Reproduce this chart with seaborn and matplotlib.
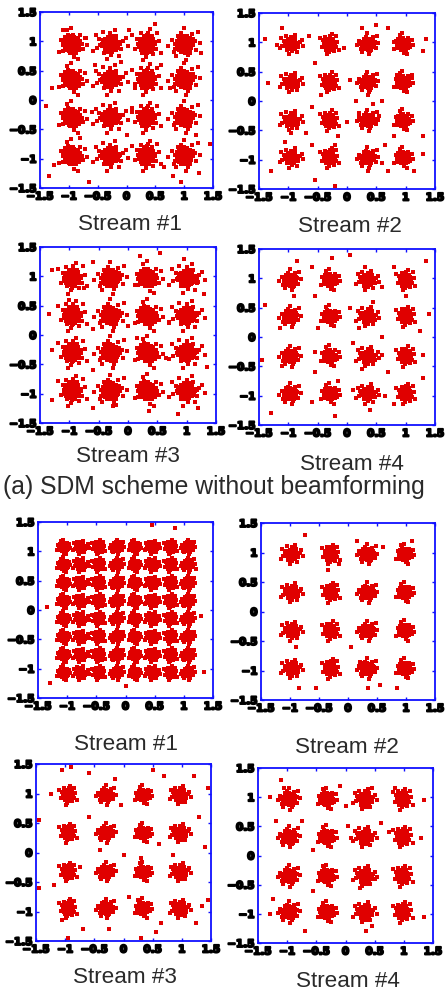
import numpy as np
import pandas as pd
import matplotlib
matplotlib.use("Agg")
import matplotlib.pyplot as plt
import matplotlib.patheffects as pe
import seaborn as sns

sns.set_theme(style="white")
plt.rcParams['font.family'] = ['Liberation Sans', 'DejaVu Sans']

# ---------------- data ----------------
LEVELS_64 = [-1.07, -0.77, -0.46, -0.15, 0.15, 0.46, 0.77, 1.07]

# observed cluster grid per panel (x levels, y levels)
P1_X = [-0.95, -0.28, 0.35, 1.00]; P1_Y = [0.95, 0.35, -0.30, -0.95]
P2_X = [-0.95, -0.30, 0.35, 0.95]; P2_Y = [0.97, 0.32, -0.33, -0.97]
P3_X = [-0.95, -0.30, 0.33, 1.00]; P3_Y = [0.97, 0.33, -0.30, -0.95]
P4_X = [-0.97, -0.30, 0.35, 1.00]; P4_Y = [0.97, 0.35, -0.33, -0.97]
P5_X = LEVELS_64; P5_Y = LEVELS_64
P6_X = [-0.97, -0.30, 0.33, 0.97]; P6_Y = [0.97, 0.32, -0.33, -0.97]
P7_X = [-0.95, -0.30, 0.33, 0.97]; P7_Y = [0.97, 0.33, -0.33, -0.95]
P8_X = [-0.97, -0.33, 0.33, 0.98]; P8_Y = [0.97, 0.32, -0.35, -0.97]

# cluster spread (data units) per panel, and whether the cluster core is solid
SPREAD = [0.19, 0.125, 0.19, 0.125, 0.085, 0.12, 0.115, 0.13]
SOLID = [True, True, True, True, False, True, True, True]

# solid cluster core (offsets in units of spread)
CORE = [(-0.4,-0.2),(-0.4,0.0),(-0.4,0.2),(-0.2,-0.4),(-0.2,-0.2),(-0.2,0.0),(-0.2,0.2),(-0.2,0.4),
        (0.0,-0.4),(0.0,-0.2),(0.0,0.2),(0.0,0.4),(0.2,-0.4),(0.2,-0.2),(0.2,0.0),(0.2,0.2),(0.2,0.4),
        (0.4,-0.2),(0.4,0.0),(0.4,0.2),(-0.55,0.05),(0.55,-0.05),(0.05,0.55),(-0.05,-0.55),
        (-0.35,-0.4),(0.35,0.4),(-0.35,0.4),(0.35,-0.4),
        (-0.65,-0.15),(-0.62,0.30),(0.66,0.20),(0.60,-0.35),(-0.20,0.65),(0.25,0.62),(-0.25,-0.63),(0.18,-0.66),
        (-0.50,0.50),(0.50,0.52),(-0.48,-0.52),(0.52,-0.48),(0.75,0.00),(-0.75,0.05),(0.00,0.75),(0.05,-0.75)]

# hand-read cloud shapes (offsets in units of spread)
PAT_A = [(0.00,0.00),(0.20,0.10),(-0.20,0.05),(0.05,0.25),(-0.05,-0.20),(0.30,-0.15),(-0.35,-0.10),(0.15,-0.40),(-0.30,0.35),(0.40,0.30),
         (0.55,0.05),(-0.55,0.20),(0.05,0.55),(-0.05,-0.55),(0.45,-0.40),(-0.45,-0.40),(0.30,0.55),(-0.25,-0.45),(0.65,-0.20),(-0.65,-0.25),
         (0.15,0.15),(-0.15,0.25),(0.40,0.05),(-0.35,0.15),(0.10,-0.15),(-0.20,-0.25),(0.25,-0.30),(-0.10,0.45),(0.55,0.45),(-0.50,0.45),
         (0.80,0.25),(-0.80,-0.05),(0.10,0.80),(-0.20,-0.75),(0.70,-0.55),(-0.60,0.65),(0.90,0.00),(-0.30,0.85),(0.40,-0.75),(1.05,-0.40),
         (-0.95,0.40),(1.25,0.60),(-1.15,-0.65),(0.20,-1.15),(-0.40,1.25),(0.75,0.80),(-0.80,-0.60),(1.40,-0.10),(-0.05,1.50),(0.60,-1.35)]
PAT_B = [(0.00,0.05),(0.25,-0.05),(-0.25,0.00),(0.10,0.25),(-0.10,-0.25),(0.45,0.15),(-0.45,-0.15),(0.30,-0.30),(-0.30,0.30),(0.60,-0.05),
         (-0.60,0.05),(0.15,0.45),(-0.15,-0.45),(0.50,0.40),(-0.50,-0.40),(0.75,0.20),(-0.75,-0.20),(0.35,0.00),(-0.35,0.10),(0.05,-0.10),
         (0.20,0.15),(-0.20,-0.10),(0.40,-0.50),(-0.40,0.50),(0.70,-0.35),(-0.70,0.35),(0.05,0.65),(-0.05,-0.65),(0.90,0.05),(-0.90,-0.05),
         (0.25,0.70),(-0.25,-0.70),(0.95,-0.45),(-1.00,0.45),(0.55,0.75),(-0.55,-0.75),(1.15,0.25),(-1.20,-0.30),(0.00,1.00),(0.10,-1.00),
         (1.40,0.55),(-1.35,0.80),(0.75,-1.05),(-0.70,1.10),(1.60,-0.20),(-0.30,-1.35),(0.45,1.30),(-1.55,-0.60)]
PAT_C = [(0.00,0.00),(0.10,0.25),(-0.10,-0.25),(0.25,0.05),(-0.25,-0.05),(0.15,-0.45),(-0.15,0.45),(0.35,0.35),(-0.35,-0.35),(0.05,0.65),
         (-0.05,-0.65),(0.40,-0.20),(-0.40,0.20),(0.20,0.55),(-0.20,-0.55),(0.45,0.10),(-0.45,-0.05),(0.15,0.10),(-0.15,-0.10),(0.30,-0.40),
         (-0.30,0.40),(0.05,0.85),(-0.05,-0.85),(0.55,0.45),(-0.55,-0.45),(0.60,-0.10),(-0.60,0.10),(0.25,-0.70),(-0.25,0.75),(0.45,0.75),
         (-0.45,-0.75),(0.75,0.20),(-0.70,-0.25),(0.10,1.05),(-0.10,-1.10),(0.85,-0.45),(-0.85,0.50),(0.60,-0.90),(-0.55,1.00),(1.10,0.30),
         (-1.05,-0.40),(0.30,1.35),(-0.35,-1.40),(1.30,-0.75),(-1.30,0.85),(0.95,1.05)]
PAT_D = [(0.00,0.00),(0.20,0.20),(-0.20,-0.20),(0.25,-0.15),(-0.25,0.15),(0.00,0.35),(0.00,-0.35),(0.45,0.00),(-0.45,0.00),(0.40,0.40),
         (-0.40,-0.40),(0.40,-0.40),(-0.40,0.40),(0.10,0.55),(-0.10,-0.55),(0.60,0.20),(-0.60,-0.20),(0.65,-0.25),(-0.60,0.30),(0.25,0.70),
         (-0.30,-0.70),(0.20,-0.65),(-0.20,0.65),(0.80,0.45),(-0.80,-0.45),(0.85,-0.05),(-0.85,0.05),(0.50,-0.75),(-0.55,0.75),(0.10,0.10),
         (-0.10,0.10),(0.10,-0.10),(1.00,0.25),(-0.95,-0.70),(0.35,-1.00),(-0.25,1.00),(1.10,-0.50),(-1.15,0.40),(0.70,0.95),(-0.75,-1.05),
         (1.45,0.10),(-1.45,-0.15),(0.20,-1.40),(-0.05,1.45),(1.25,1.10)]
PATTERNS = [PAT_A, PAT_B, PAT_C, PAT_D]

# stray points
P1_OUT = [(-1.1,1.2),(-1.3,0.2),(-1.35,-1.3),(-1.25,-1.1),(-0.55,0.6),(-0.6,-0.2),(-0.65,-1.4),(-0.1,0.65),(0.0,-0.6),(0.05,1.2),
          (0.5,1.3),(0.6,0.6),(0.1,-0.2),(0.65,-1.15),(0.8,-1.3),(1.3,0.8),(1.2,-0.6),(1.45,-0.75),(-0.7,1.05),(0.75,0.2),
          (0.95,-1.4),(-1.4,-0.1),(-0.8,-0.65),(1.25,-1.25),(0.15,0.2)]
P2_OUT = [(-1.4,1.05),(-1.35,0.3),(-1.2,0.95),(-1.1,1.25),(-0.65,1.1),(-0.55,0.65),(-0.45,0.1),(-0.6,-0.1),(-0.7,-0.55),(-0.6,-0.75),
          (-1.3,-1.2),(-0.55,-1.35),(-0.2,-1.45),(-0.05,0.9),(0.05,0.35),(0.15,0.0),(0.2,-0.2),(0.35,0.1),(0.45,-0.05),(0.6,0.0),
          (0.55,-0.25),(0.25,1.25),(0.5,1.3),(0.7,1.25),(0.8,1.0),(0.85,0.45),(1.1,0.45),(1.3,0.85),(1.35,1.05),(1.3,-0.6),
          (1.3,-0.9),(0.65,-0.75),(0.6,-1.05),(0.7,-1.2),(0.8,-0.6),(-0.15,-0.6),(-0.2,-0.75),(0.0,-0.35),(-1.05,-0.7),(-0.95,-0.55),
          (0.35,-1.2),(1.15,-1.2)]
P3_OUT = [(-1.3,1.1),(-1.35,0.35),(-1.0,0.6),(-0.75,0.8),(-0.6,1.25),(0.2,1.35),(0.55,1.4),(0.95,1.3),(1.2,0.9),(1.3,0.7),
          (-0.6,0.1),(0.0,0.15),(0.15,-0.05),(-0.6,-0.6),(0.65,-0.4),(1.35,-0.55),(-1.3,-1.1),(-0.6,-1.25),(-0.2,-1.2),(0.35,-1.3),
          (0.85,-1.35),(1.2,-1.25),(-1.3,-0.25),(0.7,0.2)]
P4_OUT = [(-1.4,0.55),(-1.45,-0.4),(-1.3,-1.3),(-1.15,0.15),(-1.1,-0.5),(-0.9,0.7),(-0.85,1.3),(-0.6,1.2),(-0.55,0.7),(-0.5,0.15),
          (-0.55,-0.25),(-0.55,-0.6),(-0.6,-1.1),(-0.2,-1.35),(-0.25,1.35),(0.05,1.4),(0.05,0.5),(0.1,-0.1),(0.2,0.15),(0.25,-0.55),
          (0.1,-0.9),(0.45,0.6),(0.6,0.85),(0.6,0.0),(0.6,-0.3),(0.7,-0.6),(0.65,-1.0),(0.4,-1.25),(0.8,1.2),(1.0,0.7),
          (1.25,0.1),(1.3,-0.3),(1.3,-0.7),(1.35,1.3),(1.4,0.4),(0.3,1.2),(-0.15,-0.75),(0.8,-1.15)]
P5_OUT = [(0.45,1.45),(0.85,1.4),(1.3,-0.1),(1.35,-1.05),(-1.3,-1.25),(-1.35,0.05),(0.0,-1.3),(1.2,0.7)]
P6_OUT = [(-0.75,1.3),(0.15,1.2),(0.6,1.1),(1.1,1.2),(-0.15,0.8),(0.05,-0.6),(-0.9,-0.6),(-0.55,-1.3),(-0.85,-1.3),(0.35,-1.3),
          (0.55,-1.25),(0.85,-1.3),(-0.35,0.7),(0.2,-0.85)]
P7_OUT = [(-1.05,1.4),(-0.9,1.45),(-0.6,1.35),(-0.15,1.25),(0.5,1.4),(0.7,1.3),(1.2,1.3),(1.45,1.1),(-1.25,1.0),(-1.45,0.55),
          (1.3,0.6),(1.4,0.1),(-0.6,0.6),(-0.05,0.8),(-0.4,0.05),(0.0,-0.05),(0.3,-0.1),(0.6,0.15),(0.85,-0.05),(-1.45,-0.6),
          (-1.2,-0.55),(-0.75,-0.25),(-1.05,-1.15),(-0.7,-1.3),(-0.25,-1.3),(0.1,-0.75),(0.25,-0.8),(0.55,-1.35),(0.65,-1.2),(0.3,-1.45),
          (-0.95,-1.45),(1.25,-1.2),(1.35,-0.9),(1.45,-0.8)]
P8_OUT = [(-1.1,1.3),(-1.05,1.15),(-1.3,1.0),(-0.1,1.2),(0.45,1.15),(0.85,1.15),(1.35,0.95),(-1.2,0.6),(-0.75,0.6),(-0.55,0.1),
          (0.05,0.5),(0.6,0.55),(0.75,0.4),(1.3,0.3),(-1.25,-0.75),(-0.55,-0.6),(0.25,-0.55),(0.5,-0.4),(-0.7,-1.3),(0.35,-1.3),
          (0.45,-1.2),(1.35,-1.05),(0.0,0.85),(-1.3,-1.0),(0.1,0.3)]

TITLES = ["Stream #1", "Stream #2", "Stream #3", "Stream #4",
          "Stream #1", "Stream #2", "Stream #3", "Stream #4"]
CAPTION_A = "(a) SDM scheme without beamforming"
TICKS = [-1.5, -1, -0.5, 0, 0.5, 1, 1.5]
TICK_LABELS = ["\u22121.5", "\u22121", "\u22120.5", "0", "0.5", "1", "1.5"]

GRIDS = [(P1_X, P1_Y), (P2_X, P2_Y), (P3_X, P3_Y), (P4_X, P4_Y),
         (P5_X, P5_Y), (P6_X, P6_Y), (P7_X, P7_Y), (P8_X, P8_Y)]
OUTS = [P1_OUT, P2_OUT, P3_OUT, P4_OUT, P5_OUT, P6_OUT, P7_OUT, P8_OUT]

# build a table of all points
rows = []
for p, ((gx, gy), sp, outs) in enumerate(zip(GRIDS, SPREAD, OUTS)):
    k = 0
    for j, cy in enumerate(gy):
        for i, cx in enumerate(gx):
            pat = PATTERNS[(k + p) % len(PATTERNS)]
            if SOLID[p]:
                pat = pat + CORE
            for dx, dy in pat:
                rows.append((p, cx + dx * sp, cy + dy * sp))
            k += 1
    for ox, oy in outs:
        rows.append((p, ox, oy))
df = pd.DataFrame(rows, columns=["panel", "I", "Q"])

# ---------------- layout (pixel boxes: left, top, right, bottom) ----------------
W, H = 447, 992
BOXES = [(40, 12, 213, 188), (259, 13, 435, 189),
         (40, 247, 216, 423), (259, 249, 435, 425),
         (38, 522, 213, 698), (261, 523, 435, 700),
         (36, 764, 211, 941), (258, 768, 433, 943)]
TITLE_POS = [(130, 230), (350, 232), (128, 462), (352, 470),
             (126, 750), (347, 753), (125, 983), (348, 987)]

fig = plt.figure(figsize=(W / 100, H / 100), dpi=100)
fig.patch.set_facecolor("white")

RED = "#e00000"
BLUE = "#1010ff"
stroke = [pe.withStroke(linewidth=1.4, foreground="black")]

for p, (l, t, r, b) in enumerate(BOXES):
    ax = fig.add_axes([l / W, 1 - b / H, (r - l) / W, (b - t) / H])
    sub = df[df.panel == p]
    sns.scatterplot(data=sub, x="I", y="Q", ax=ax, color=RED, marker="s",
                    s=12, linewidth=0, legend=False)
    ax.set_xlim(-1.5, 1.5)
    ax.set_ylim(-1.5, 1.5)
    ax.set_xlabel("")
    ax.set_ylabel("")
    ax.set_facecolor("white")
    for sp_ in ax.spines.values():
        sp_.set_color(BLUE)
        sp_.set_linewidth(1.3)
        sp_.set_visible(True)
    ax.set_xticks(TICKS)
    ax.set_yticks(TICKS)
    ax.set_xticklabels(TICK_LABELS)
    ax.set_yticklabels(TICK_LABELS)
    ax.tick_params(direction="in", length=2.5, width=1.0, color=BLUE,
                   top=True, right=True, bottom=True, left=True,
                   labelsize=7.5, pad=2.5, labelcolor="black")
    for lab in ax.get_xticklabels() + ax.get_yticklabels():
        lab.set_fontweight("bold")
        lab.set_family("DejaVu Sans")
        lab.set_path_effects(stroke)
    tx, ty = TITLE_POS[p]
    fig.text(tx / W, 1 - ty / H, TITLES[p], ha="center", va="baseline",
             fontsize=16.2, color="#2a2a2a")

fig.text(214 / W, 1 - 494 / H, CAPTION_A, ha="center", va="baseline",
         fontsize=17.8, color="#2a2a2a")

fig.savefig("out.png", dpi=100, facecolor="white")
